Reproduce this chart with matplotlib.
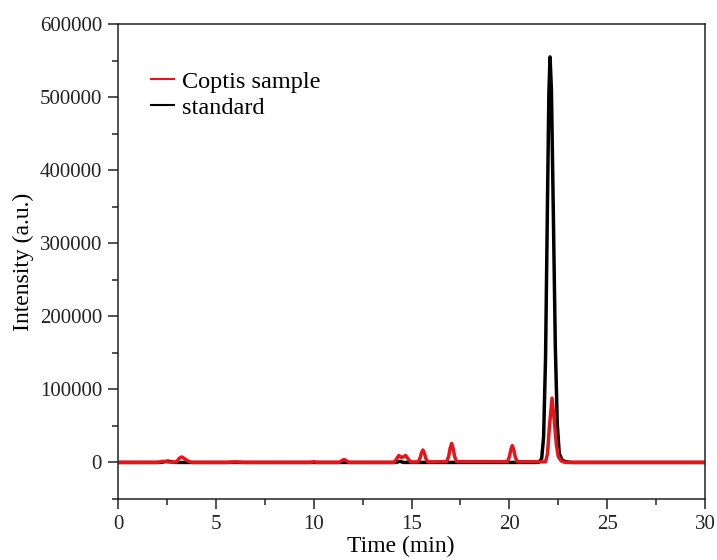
import matplotlib.pyplot as plt
from matplotlib.ticker import MultipleLocator

plt.rcParams['font.family'] = ['Liberation Serif', 'DejaVu Serif']
plt.rcParams['font.size'] = 15

# standard trace (time in min, intensity)
std_time = [0, 2.2, 2.4, 2.55, 2.7, 2.9, 14.2, 14.4, 14.6, 21.35, 21.5, 21.65, 21.75, 21.85,
            21.95, 22.02, 22.08, 22.15, 22.25, 22.35, 22.45, 22.55, 22.7, 22.9, 23.2, 30]
std_int = [0, 0, 1200, 1800, 1000, 0, 0, 1500, 0, 0, 100, 4950, 34500, 143800,
           360600, 506200, 555000, 509900, 336600, 157200, 52000, 12200, 3000, 800, 0, 0]

# Coptis sample trace
cop_time = [0, 2.0, 2.3, 2.6, 3.0, 3.12, 3.25, 3.38, 3.5, 3.65, 3.8, 5.5, 6.0, 6.5,
            9.8, 10.0, 10.2, 11.3, 11.45, 11.55, 11.65, 11.8,
            14.1, 14.22, 14.35, 14.5, 14.58, 14.7, 14.82, 14.95,
            15.33, 15.43, 15.5, 15.58, 15.66, 15.73, 15.83,
            16.8, 16.9, 16.97, 17.05, 17.13, 17.2, 17.3,
            19.9, 20.0, 20.07, 20.15, 20.23, 20.3, 20.4,
            21.85, 21.95, 22.05, 22.18, 22.3, 22.4, 22.5, 22.65, 22.85, 30]
cop_int = [0, 0, 1500, 500, 600, 5500, 7500, 5500, 3200, 1000, 0, 0, 800, 0,
           0, 900, 0, 0, 2600, 4000, 2600, 0,
           0, 4200, 9500, 6500, 7500, 9500, 5000, 600,
           600, 5500, 12400, 17000, 12400, 5500, 600,
           1100, 8400, 19000, 26000, 19000, 8400, 1100,
           1000, 7500, 16700, 23000, 16700, 7500, 1000,
           800, 12000, 50000, 88000, 56000, 25000, 8000, 2000, 0, 0]

fig = plt.figure(figsize=(7.17, 5.6), dpi=100)
ax = fig.add_axes([0.1646, 0.109, 0.8187, 0.848])

ln_std, = ax.plot(std_time, std_int, color='black', linewidth=2.5, label='standard')
ln_cop, = ax.plot(cop_time, cop_int, color='#e8141b', linewidth=2.5, label='Coptis sample')

ax.set_xlim(0, 30)
ax.set_ylim(-50000, 600000)
ax.xaxis.set_major_locator(MultipleLocator(5))
ax.xaxis.set_minor_locator(MultipleLocator(2.5))
ax.yaxis.set_major_locator(MultipleLocator(100000))
ax.yaxis.set_minor_locator(MultipleLocator(50000))
ax.tick_params(which='both', direction='out', width=1.1, top=False, right=False,
               colors='#222222', labelcolor='#222222')
ax.tick_params(which='major', length=7, pad=4.5)
ax.tick_params(which='minor', length=4)
for sp in ax.spines.values():
    sp.set_linewidth(1.1)
    sp.set_color('#222222')

ax.set_xlabel('Time (min)', fontsize=17, labelpad=0)
ax.xaxis.set_label_coords(0.482, -0.077)
ax.set_ylabel('Intensity (a.u.)', fontsize=17, labelpad=4)

leg = ax.legend(handles=[ln_cop, ln_std], loc='upper left', bbox_to_anchor=(0.04, 0.922),
                frameon=False, fontsize=17.5, handlelength=0.95, handletextpad=0.3,
                labelspacing=0.17, borderaxespad=0)
for h in leg.get_lines():
    h.set_linewidth(1.5)

plt.savefig('out.png', dpi=100)
